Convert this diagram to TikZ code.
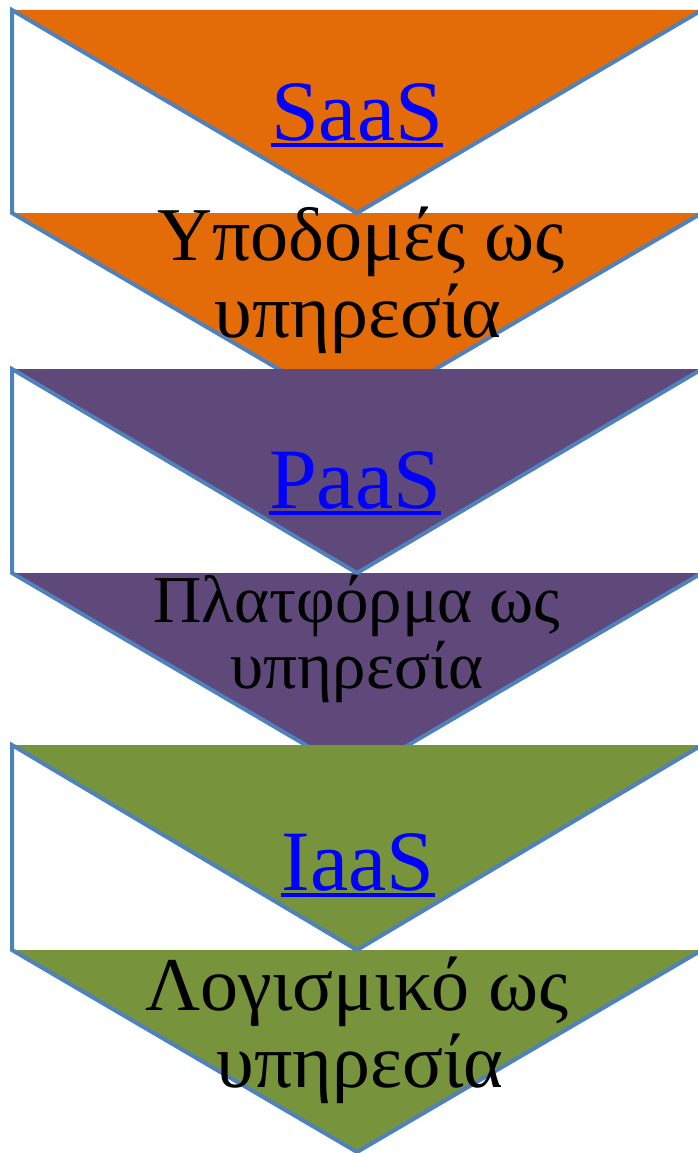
\documentclass[tikz,border=0pt]{standalone}
\usepackage{fontspec}
\setmainfont{Liberation Serif}
\definecolor{fillA}{HTML}{E36C09}
\definecolor{fillB}{HTML}{5F497A}
\definecolor{fillC}{HTML}{77933C}
\definecolor{lineblue}{HTML}{4F81BD}
\definecolor{linkblue}{HTML}{0000FF}
\begin{document}
\begin{tikzpicture}[x=1pt,y=-1pt,
  edge/.style={draw=lineblue, line width=4pt, line join=miter},
  title/.style={text=linkblue, font=\fontsize{86}{86}\selectfont, inner sep=0pt, anchor=base},
  uline/.style={draw=linkblue, line width=4pt},
  bodyL/.style={text=black, font=\fontsize{76}{77}\selectfont, inner sep=0pt, anchor=base},
  bodyS/.style={text=black, font=\fontsize{67}{66}\selectfont, inner sep=0pt, anchor=base}]
\useasboundingbox (0,0) rectangle (697,1153);
\fill[white] (0,0) rectangle (697,1153);

% ---- section 1 ----
\fill[fillA] (12,10) -- (702,10) -- (357,213) -- cycle;
\fill[fillA] (12,213) -- (702,213) -- (357,415) -- cycle;
\draw[edge] (12,10) -- (357,213) -- (702,10) -- (702,213) -- (357,415) -- (12,213) -- cycle;
\node[title] (t1) at (357,140) {SaaS};
\draw[uline] ([yshift=-5pt]t1.base west) -- ([yshift=-5pt]t1.base east);
\node[bodyL] (a1) at (361,260) {Υποδομές ως};
\node[bodyL] (b1) at (358,337) {υπηρεσία};

% ---- section 2 ----
\fill[fillB] (12,369) -- (702,369) -- (357,573) -- cycle;
\fill[fillB] (12,573) -- (702,573) -- (357,775) -- cycle;
\draw[edge] (12,369) -- (357,573) -- (702,369) -- (702,573) -- (357,775) -- (12,573) -- cycle;
\node[title] (t2) at (355,508) {PaaS};
\draw[uline] ([yshift=-5pt]t2.base west) -- ([yshift=-5pt]t2.base east);
\node[bodyS] (a2) at (357,622) {Πλατφόρμα ως};
\node[bodyS] (b2) at (357,688) {υπηρεσία};

% ---- section 3 ----
\fill[fillC] (12,745) -- (702,745) -- (357,950) -- cycle;
\fill[fillC] (12,950) -- (702,950) -- (357,1152) -- cycle;
\draw[edge] (12,745) -- (357,950) -- (702,745) -- (702,950) -- (357,1152) -- (12,950) -- cycle;
\node[title] (t3) at (358,890) {IaaS};
\draw[uline] ([yshift=-5pt]t3.base west) -- ([yshift=-5pt]t3.base east);
\node[bodyL] (a3) at (357,1010) {Λογισμικό ως};
\node[bodyL] (b3) at (360,1087) {υπηρεσία};
\end{tikzpicture}
\end{document}
